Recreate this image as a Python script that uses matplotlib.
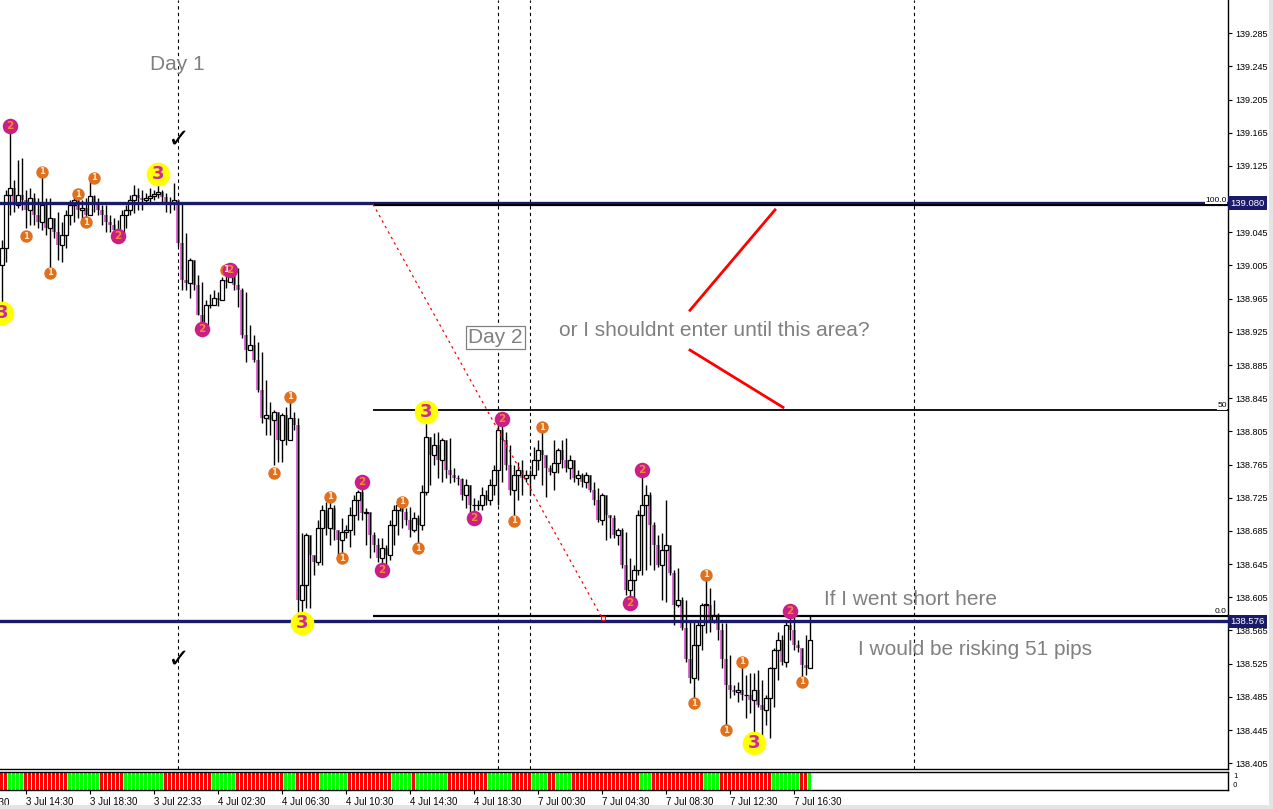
import matplotlib
matplotlib.use("Agg")
import matplotlib.pyplot as plt
import matplotlib.transforms as mtransforms
from matplotlib.patches import Rectangle
import numpy as np

# --- data (15 min bars) ---
first_open = 139.006
closes = [
    139.026, 139.090, 139.098, 139.078, 139.090, 139.084, 139.072, 139.086, 139.066, 139.057,
    139.078, 139.050, 139.062, 139.045, 139.030, 139.042, 139.066, 139.078, 139.084, 139.072,
    139.074, 139.066, 139.089, 139.078, 139.072, 139.066, 139.057, 139.054, 139.048, 139.042,
    139.066, 139.072, 139.084, 139.090, 139.086, 139.084, 139.086, 139.089, 139.091, 139.094,
    139.088, 139.080, 139.080, 139.084, 139.032, 138.988, 138.984, 139.012, 138.982, 138.945,
    138.933, 138.957, 138.957, 138.966, 138.963, 138.988, 138.985, 138.997, 138.982, 138.976,
    138.921, 138.903, 138.909, 138.891, 138.855, 138.821, 138.825, 138.819, 138.828, 138.795,
    138.825, 138.795, 138.821, 138.813, 138.602, 138.620, 138.680, 138.656, 138.648, 138.689,
    138.710, 138.689, 138.713, 138.686, 138.674, 138.684, 138.686, 138.704, 138.722, 138.732,
    138.707, 138.708, 138.680, 138.668, 138.652, 138.664, 138.656, 138.692, 138.710, 138.716,
    138.708, 138.698, 138.686, 138.701, 138.692, 138.732, 138.798, 138.777, 138.789, 138.771,
    138.795, 138.759, 138.752, 138.749, 138.747, 138.728, 138.740, 138.716, 138.716, 138.716,
    138.728, 138.722, 138.740, 138.759, 138.807, 138.795, 138.765, 138.734, 138.752, 138.759,
    138.749, 138.752, 138.752, 138.771, 138.783, 138.777, 138.761, 138.756, 138.767, 138.783,
    138.771, 138.761, 138.771, 138.749, 138.752, 138.744, 138.752, 138.734, 138.722, 138.698,
    138.728, 138.704, 138.701, 138.680, 138.686, 138.644, 138.614, 138.626, 138.638, 138.704,
    138.716, 138.728, 138.692, 138.668, 138.644, 138.662, 138.668, 138.634, 138.596, 138.602,
    138.568, 138.530, 138.508, 138.548, 138.572, 138.596, 138.596, 138.578, 138.584, 138.566,
    138.530, 138.499, 138.493, 138.491, 138.493, 138.487, 138.487, 138.481, 138.493, 138.475,
    138.469, 138.484, 138.520, 138.542, 138.554, 138.527, 138.572, 138.566, 138.548, 138.544,
    138.523, 138.520, 138.554,
]
highs = [
    139.036, 139.096, 139.173, 139.108, 139.132, 139.135, 139.096, 139.098, 139.092, 139.086,
    139.118, 139.086, 139.086, 139.057, 139.070, 139.057, 139.072, 139.084, 139.094, 139.090,
    139.084, 139.086, 139.111, 139.090, 139.086, 139.078, 139.078, 139.066, 139.062, 139.060,
    139.072, 139.078, 139.090, 139.102, 139.098, 139.096, 139.092, 139.098, 139.096, 139.111,
    139.096, 139.092, 139.088, 139.104, 139.084, 139.080, 139.044, 139.014, 139.000, 138.994,
    138.985, 138.963, 138.971, 138.976, 138.973, 138.991, 138.994, 139.006, 139.000, 139.002,
    138.978, 138.973, 138.933, 138.921, 138.913, 138.901, 138.867, 138.840, 138.831, 138.813,
    138.827, 138.834, 138.847, 138.828, 138.821, 138.683, 138.683, 138.674, 138.656, 138.698,
    138.716, 138.720, 138.726, 138.716, 138.686, 138.701, 138.692, 138.714, 138.728, 138.734,
    138.743, 138.713, 138.708, 138.684, 138.677, 138.677, 138.668, 138.698, 138.716, 138.725,
    138.722, 138.713, 138.714, 138.708, 138.704, 138.740, 138.819, 138.795, 138.803, 138.804,
    138.797, 138.795, 138.797, 138.761, 138.752, 138.749, 138.747, 138.728, 138.725, 138.722,
    138.738, 138.734, 138.747, 138.765, 138.815, 138.821, 138.804, 138.789, 138.765, 138.768,
    138.771, 138.759, 138.759, 138.786, 138.795, 138.809, 138.777, 138.765, 138.795, 138.785,
    138.795, 138.797, 138.777, 138.768, 138.759, 138.755, 138.756, 138.747, 138.744, 138.737,
    138.731, 138.722, 138.704, 138.704, 138.689, 138.689, 138.684, 138.652, 138.644, 138.710,
    138.759, 138.740, 138.732, 138.696, 138.680, 138.683, 138.722, 138.656, 138.638, 138.640,
    138.605, 138.602, 138.575, 138.578, 138.577, 138.598, 138.632, 138.616, 138.602, 138.586,
    138.574, 138.574, 138.536, 138.499, 138.503, 138.525, 138.511, 138.514, 138.514, 138.517,
    138.505, 138.487, 138.521, 138.544, 138.563, 138.560, 138.575, 138.587, 138.584, 138.554,
    138.542, 138.560, 138.584,
]
lows = [
    138.954, 139.009, 139.066, 139.070, 139.074, 139.072, 139.050, 139.054, 139.054, 139.050,
    139.048, 139.042, 138.997, 139.038, 139.012, 139.009, 139.026, 139.054, 139.057, 139.062,
    139.054, 139.057, 139.072, 139.070, 139.066, 139.054, 139.045, 139.045, 139.041, 139.038,
    139.045, 139.050, 139.066, 139.068, 139.072, 139.072, 139.082, 139.082, 139.084, 139.086,
    139.080, 139.070, 139.068, 139.072, 139.029, 138.976, 138.976, 138.966, 138.976, 138.945,
    138.927, 138.927, 138.954, 138.957, 138.956, 138.963, 138.978, 138.985, 138.976, 138.955,
    138.918, 138.889, 138.903, 138.889, 138.853, 138.815, 138.801, 138.801, 138.765, 138.768,
    138.768, 138.789, 138.813, 138.807, 138.587, 138.575, 138.592, 138.592, 138.632, 138.644,
    138.644, 138.680, 138.668, 138.674, 138.652, 138.655, 138.677, 138.666, 138.680, 138.698,
    138.698, 138.668, 138.652, 138.660, 138.648, 138.638, 138.644, 138.650, 138.668, 138.680,
    138.689, 138.692, 138.678, 138.684, 138.666, 138.686, 138.728, 138.740, 138.765, 138.749,
    138.744, 138.749, 138.743, 138.744, 138.740, 138.722, 138.713, 138.704, 138.701, 138.710,
    138.710, 138.716, 138.716, 138.728, 138.716, 138.744, 138.759, 138.728, 138.696, 138.722,
    138.728, 138.744, 138.728, 138.747, 138.759, 138.740, 138.726, 138.752, 138.734, 138.755,
    138.761, 138.756, 138.747, 138.744, 138.740, 138.738, 138.737, 138.732, 138.716, 138.696,
    138.692, 138.674, 138.677, 138.677, 138.668, 138.640, 138.608, 138.602, 138.602, 138.632,
    138.632, 138.638, 138.644, 138.638, 138.642, 138.602, 138.599, 138.632, 138.572, 138.593,
    138.566, 138.527, 138.502, 138.481, 138.505, 138.542, 138.562, 138.563, 138.574, 138.554,
    138.520, 138.449, 138.484, 138.487, 138.479, 138.481, 138.460, 138.466, 138.433, 138.473,
    138.437, 138.451, 138.435, 138.473, 138.505, 138.523, 138.521, 138.554, 138.542, 138.539,
    138.505, 138.511, 138.520,
]

# swing counter markers: bar index, price, label
sig_bars = [0, 2, 6, 10, 12, 19, 21, 23, 29, 39, 50, 56, 57, 68, 72, 75, 82, 85,
            90, 95, 100, 104, 106, 118, 125, 128, 135, 157, 160, 173, 176, 181,
            185, 188, 197, 200]
sig_prices = [138.948, 139.173, 139.040, 139.118, 138.996, 139.091, 139.057, 139.111,
              139.040, 139.115, 138.928, 139.000, 139.000, 138.755, 138.847, 138.574,
              138.726, 138.652, 138.744, 138.638, 138.720, 138.664, 138.828, 138.701,
              138.820, 138.697, 138.810, 138.598, 138.759, 138.477, 138.632, 138.445,
              138.527, 138.429, 138.588, 138.503]
sig_labels = ['3', '2', '1', '1', '1', '1', '1', '1', '2', '3', '2', '1', '2', '1', '1',
              '3', '1', '1', '2', '2', '1', '1', '3', '2', '2', '1', '1', '2', '2', '1',
              '1', '1', '1', '3', '2', '1']

# bottom histogram colour runs
hist_runs = [('r', 2), ('g', 4), ('r', 11), ('g', 8), ('r', 6), ('g', 10), ('r', 12),
             ('g', 6), ('r', 12), ('g', 3), ('r', 6), ('g', 7), ('r', 11), ('g', 5),
             ('r', 1), ('g', 8), ('r', 10), ('g', 6), ('r', 5), ('g', 4), ('r', 2),
             ('g', 4), ('r', 17), ('g', 3), ('r', 13), ('g', 4), ('r', 13), ('g', 7),
             ('r', 2), ('g', 1)]

time_ticks = [6, 22, 38, 54, 70, 86, 102, 118, 134, 150, 166, 182, 198]
time_labels = ['3 Jul 14:30', '3 Jul 18:30', '3 Jul 22:33', '4 Jul 02:30',
               '4 Jul 06:30', '4 Jul 10:30', '4 Jul 14:30', '4 Jul 18:30', '7 Jul 00:30',
               '7 Jul 04:30', '7 Jul 08:30', '7 Jul 12:30', '7 Jul 16:30']
price_ticks = [139.285, 139.245, 139.205, 139.165, 139.125, 139.085, 139.045, 139.005,
               138.965, 138.925, 138.885, 138.845, 138.805, 138.765, 138.725, 138.685,
               138.645, 138.605, 138.565, 138.525, 138.485, 138.445, 138.405]

sep_bars = [44, 124, 132, 228]
hline_prices = [139.080, 138.576]
fib_start = 92.75
fib_levels = [139.078, 138.8305, 138.583]
fib_names = ['100.0', '50', '0.0']

NAVY = '#1a1a6b'
PINK = '#da70d6'
GRAY = '#808080'
XLIM = (-0.5, 306.5)
TF = 'Liberation Sans'

fig = plt.figure(figsize=(12.73, 8.09), dpi=100)
fig.patch.set_facecolor('white')
ax = fig.add_axes([0, 40 / 809, 1228 / 1273, 769 / 809])
axh = fig.add_axes([0, 19 / 809, 1228 / 1273, 18 / 809])

n = len(closes)
x = np.arange(n)
c = np.array(closes)
o = np.concatenate([[first_open], c[:-1]])
h = np.maximum(np.array(highs), np.maximum(o, c))
l = np.minimum(np.array(lows), np.minimum(o, c))

ax.vlines(x, l, h, color='black', lw=1.0, zorder=3)
bull = c >= o
bear = ~bull
ax.bar(x[bear], (o - c)[bear], bottom=c[bear], width=0.8, color=PINK, lw=0, zorder=2)
ax.bar(x[bull], np.maximum((c - o)[bull], 0.0008), bottom=o[bull], width=0.8,
       facecolor='white', edgecolor='black', lw=0.9, zorder=4)

# horizontal levels
for p in hline_prices:
    ax.axhline(p, color=NAVY, lw=2.4, zorder=5)
for p, nm in zip(fib_levels, fib_names):
    ax.hlines(p, fib_start, XLIM[1], color='black', lw=1.6 if nm != '50' else 1.3, zorder=5)
    ax.text(306.2, p + 0.001, nm, fontsize=6, ha='right', va='bottom', zorder=7, family=TF,
            bbox=dict(facecolor='white', edgecolor='none', pad=0.3))
ax.plot([fib_start, 150.25], [139.079, 138.578], color='red', lw=0.9, ls=(0, (2, 3)), zorder=5)
ax.plot([150.25], [138.580], marker='s', ms=3.5, mfc='none', mec='red', mew=0.7, zorder=5)

for b in sep_bars:
    ax.axvline(b, color='black', lw=0.8, ls=(0, (3, 3)), zorder=1)

# counters
style = {'1': ('#e07020', 80, '#ffe8c0', 6),
         '2': ('#cc1f86', 125, '#f08a30', 7.5),
         '3': ('#ffff00', 290, '#cc2a9a', 13)}
for b, p, lab in zip(sig_bars, sig_prices, sig_labels):
    fc, s, tc, fs = style[lab]
    ax.scatter([b], [p], s=s, color=fc, zorder=8, lw=0, clip_on=False)
    ax.text(b, p, lab, color=tc, fontsize=fs, fontweight='bold', ha='center',
            va='center', zorder=9, clip_on=True)

# annotations
ann = dict(color=GRAY, fontsize=15, family=TF, zorder=10)
ax.text(37, 139.247, 'Day 1', va='center', ha='left', **ann)
ax.text(116.5, 138.918, 'Day 2', va='center', ha='left',
        bbox=dict(facecolor='white', edgecolor=GRAY, pad=1.5, lw=0.9), **ann)
ax.text(139.25, 138.927, 'or I shouldnt enter until this area?', va='center', ha='left', **ann)
ax.text(205.5, 138.602, 'If I went short here', va='center', ha='left', **ann)
ax.text(214, 138.542, 'I would be risking 51 pips', va='center', ha='left', **ann)
ax.plot([172, 193.25], [138.951, 139.072], color='red', lw=2.0, zorder=6)
ax.plot([172, 195.25], [138.903, 138.834], color='red', lw=2.0, zorder=6)
ax.text(44, 139.157, '\u2713', fontsize=19, ha='center', va='center', color='black', zorder=6)
ax.text(44, 138.530, '\u2713', fontsize=19, ha='center', va='center', color='black', zorder=6)

ax.set_xticks([])
ax.yaxis.tick_right()
ax.set_yticks(price_ticks)
ax.set_yticklabels(['%.3f' % t for t in price_ticks], family=TF)
ax.tick_params(axis='y', labelsize=6.5, length=3, width=0.8, pad=2, colors='black')
ax.set_xlim(*XLIM)
ax.set_ylim(138.398, 139.325)
for sp in ['left', 'top']:
    ax.spines[sp].set_visible(False)
ax.spines['right'].set_linewidth(1.0)
ax.spines['bottom'].set_linewidth(1.0)

# price boxes on the right scale
trans = mtransforms.blended_transform_factory(ax.transAxes, ax.transData)
for p in hline_prices:
    ax.text(1.002, p, '%.3f' % p, transform=trans, fontsize=6.8, color='white', ha='left',
            va='center', zorder=12, clip_on=False, family=TF,
            bbox=dict(facecolor=NAVY, edgecolor='none', pad=1.6))

# histogram panel: 3 px bar + 1 px gap per bar, edges on whole pixels
cols = []
for col, cnt in hist_runs:
    cols += ['#ff0000' if col == 'r' else '#00ff00'] * cnt
axh.bar(np.arange(len(cols)) - 0.5, 1, bottom=0, width=0.75, align='edge', color=cols, lw=0)
axh.set_yticks([])
axh.set_xticks(time_ticks)
axh.set_xticklabels(time_labels, family=TF)
axh.tick_params(axis='x', labelsize=7, length=3, width=0.8, pad=2)
for lbl in axh.get_xticklabels():
    lbl.set_horizontalalignment('left')
axh.set_xlim(*XLIM)
axh.set_ylim(0, 1)
axh.text(-10, -0.42, '3 Jul 10:30', fontsize=7, family=TF, ha='left', va='top', clip_on=False)
axh.spines['left'].set_visible(False)
for sp in ['top', 'right', 'bottom']:
    axh.spines[sp].set_linewidth(1.0)
axh.text(1.004, 0.75, '1', transform=axh.transAxes, fontsize=5, va='center', ha='left')
axh.text(1.004, 0.3, '0', transform=axh.transAxes, fontsize=5, va='center', ha='left')

# window frame strips
fig.patches.append(Rectangle((1269 / 1273, 0), 4 / 1273, 1, transform=fig.transFigure,
                             facecolor='#e4e4e4', edgecolor='none', zorder=0))
fig.patches.append(Rectangle((0, 0), 1, 4 / 809, transform=fig.transFigure,
                             facecolor='#e4e4e4', edgecolor='none', zorder=0))

fig.savefig('out.png', dpi=100, facecolor='white')
